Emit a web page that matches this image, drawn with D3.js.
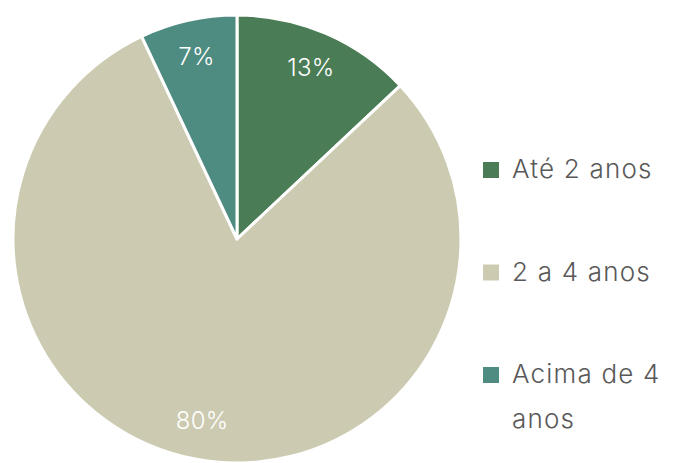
<!DOCTYPE html>
<html>
<head>
<meta charset="UTF-8">
<title>Pie</title>
<script src="https://cdn.jsdelivr.net/npm/d3@7"></script>
<style>
  body { margin: 0; background: #fff; }
  text { font-family: Inter, "Noto Sans", sans-serif; }
</style>
</head>
<body>
<svg id="chart" width="680" height="463"></svg>
<script>
var categories = ["Até 2 anos", "2 a 4 anos", "Acima de 4 anos"];
var values = [13, 80, 7];
var labels = ["13%", "80%", "7%"];
var legendLines = [["Até 2 anos"], ["2 a 4 anos"], ["Acima de 4", "anos"]];
var colors = ["#4a7c55", "#cccbb1", "#4e8b80"];

var svg = d3.select("#chart");
var cx = 237, cy = 239, radius = 224;

var color = d3.scaleOrdinal().domain(categories).range(colors);

var pie = d3.pie().sort(null).value(function (d) { return d.value; });
var data = categories.map(function (c, i) {
  return { name: c, value: values[i], label: labels[i] };
});
var arcs = pie(data);

var arc = d3.arc().innerRadius(0).outerRadius(radius);
var labelArc = d3.arc().innerRadius(radius * 0.83).outerRadius(radius * 0.83);

var g = svg.append("g").attr("transform", "translate(" + cx + "," + cy + ")");

g.selectAll("path.slice")
  .data(arcs)
  .enter().append("path")
  .attr("class", "slice")
  .attr("d", arc)
  .attr("fill", function (d) { return color(d.data.name); })
  .attr("stroke", "#fff")
  .attr("stroke-width", 3)
  .attr("stroke-linejoin", "round");

g.selectAll("text.lbl")
  .data(arcs)
  .enter().append("text")
  .attr("class", "lbl")
  .attr("transform", function (d) { return "translate(" + labelArc.centroid(d) + ")"; })
  .attr("text-anchor", "middle")
  .attr("dy", "0.3em")
  .attr("fill", "#fff")
  .style("font-size", "24px")
  .style("font-weight", 350)
  .style("letter-spacing", "0.3px")
  .text(function (d) { return d.data.label; });

// legend
var legend = svg.append("g").attr("transform", "translate(483,162)");
var items = legend.selectAll("g.item")
  .data(categories)
  .enter().append("g")
  .attr("class", "item")
  .attr("transform", function (d, i) { return "translate(0," + (i * 102.5) + ")"; });

items.append("rect")
  .attr("width", 16)
  .attr("height", 16)
  .attr("fill", function (d) { return color(d); });

items.append("text")
  .attr("x", 29)
  .attr("y", 16)
  .attr("fill", "#595959")
  .style("font-size", "26px")
  .style("font-weight", 300)
  .style("letter-spacing", "1.2px")
  .selectAll("tspan")
  .data(function (d, i) { return legendLines[i]; })
  .enter().append("tspan")
  .attr("x", 29)
  .attr("dy", function (d, i) { return i ? 45 : 0; })
  .text(function (d) { return d; });
</script>
</body>
</html>
